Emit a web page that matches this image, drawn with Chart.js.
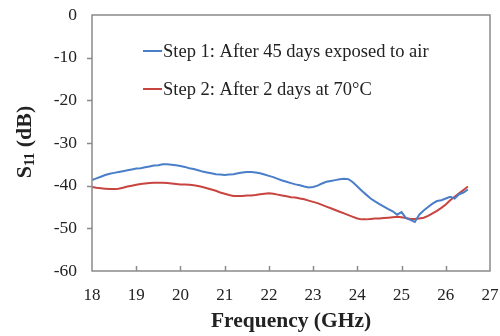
<!DOCTYPE html>
<html>
<head>
<meta charset="utf-8">
<script src="https://cdn.jsdelivr.net/npm/chart.js@4.4.1/dist/chart.umd.min.js"></script>
<style>
  html, body { margin: 0; padding: 0; background: #fff; }
  #wrap { width: 500px; height: 336px; }
</style>
</head>
<body>
<div id="wrap"><canvas id="s11Chart" width="500" height="336"></canvas></div>
<script>
// Frequency grid (GHz), shared by both series
const freq = [];
for (let i = 0; i <= 85; i++) freq.push(+(18 + i * 0.1).toFixed(1));

// Step 1: after 45 days exposed to air (dB)
const step1 = [
  -38.7, -38.3, -37.9, -37.5, -37.2, -37.0, -36.8, -36.6, -36.4, -36.2,
  -36.0, -35.9, -35.7, -35.5, -35.3, -35.2, -35.0, -35.0, -35.1, -35.2,
  -35.4, -35.6, -35.9, -36.1, -36.4, -36.7, -36.9, -37.1, -37.3, -37.4,
  -37.5, -37.4, -37.3, -37.1, -36.9, -36.8, -36.8, -36.9, -37.1, -37.4,
  -37.7, -38.0, -38.4, -38.8, -39.1, -39.4, -39.7, -39.9, -40.2, -40.4,
  -40.3, -40.0, -39.5, -39.1, -38.9, -38.7, -38.5, -38.4, -38.5, -39.2,
  -40.2, -41.2, -42.1, -43.0, -43.7, -44.3, -44.9, -45.5, -46.0, -46.8,
  -46.2, -47.6, -48.0, -48.5, -46.8, -45.8, -45.0, -44.2, -43.6, -43.4,
  -43.0, -42.6, -43.0, -42.0, -41.6, -40.9
];

// Step 2: after 2 days at 70°C (dB)
const step2 = [
  -40.3, -40.5, -40.6, -40.7, -40.8, -40.8, -40.7, -40.5, -40.2, -40.0,
  -39.8, -39.6, -39.5, -39.4, -39.3, -39.3, -39.3, -39.4, -39.5, -39.6,
  -39.7, -39.7, -39.8, -39.9, -40.1, -40.3, -40.6, -40.9, -41.2, -41.6,
  -41.9, -42.2, -42.4, -42.4, -42.4, -42.3, -42.3, -42.2, -42.0, -41.9,
  -41.8, -41.9, -42.1, -42.3, -42.5, -42.7, -42.8, -43.0, -43.2, -43.5,
  -43.8, -44.1, -44.5, -44.9, -45.3, -45.7, -46.1, -46.5, -46.9, -47.3,
  -47.7, -47.9, -47.9, -47.8, -47.7, -47.7, -47.6, -47.5, -47.4, -47.3,
  -47.4, -47.6, -47.8, -47.8, -47.7, -47.5, -47.1, -46.5, -45.9, -45.2,
  -44.4, -43.4, -42.6, -41.8, -41.0, -40.2
];

const seriesLabels = ['Step 1: After 45 days exposed to air', 'Step 2: After 2 days at 70°C'];
const seriesColors = ['#4a7ec8', '#c8443f'];

const serif = '"Liberation Serif", "Times New Roman", serif';

function toPoints (ys) {
  return ys.map((y, i) => ({ x: freq[i], y: y }));
}

// Draws the box, ticks, legend and axis titles
const decorations = {
  id: 'decorations',
  afterDraw (chart) {
    const ctx = chart.ctx;
    const a = chart.chartArea;
    const xs = chart.scales.x;
    const ys = chart.scales.y;
    ctx.save();

    // frame
    ctx.strokeStyle = '#8a8a8a';
    ctx.lineWidth = 1.5;
    ctx.strokeRect(a.left, a.top, a.right - a.left, a.bottom - a.top);

    // inward x ticks, outward y ticks
    ctx.beginPath();
    for (let v = 19; v <= 26; v++) {
      const px = Math.round(xs.getPixelForValue(v)) + 0.5;
      ctx.moveTo(px, a.bottom);
      ctx.lineTo(px, a.bottom - 5);
    }
    for (let v = -50; v <= -10; v += 10) {
      const py = Math.round(ys.getPixelForValue(v)) + 0.5;
      ctx.moveTo(a.left, py);
      ctx.lineTo(a.left - 5, py);
    }
    ctx.stroke();

    // legend
    ctx.font = '18.5px ' + serif;
    ctx.textBaseline = 'middle';
    ctx.textAlign = 'left';
    const legendY = [51, 89];
    for (let i = 0; i < 2; i++) {
      ctx.strokeStyle = seriesColors[i];
      ctx.lineWidth = 2;
      ctx.beginPath();
      ctx.moveTo(143, legendY[i]);
      ctx.lineTo(162, legendY[i]);
      ctx.stroke();
      ctx.fillStyle = '#222';
      ctx.fillText(seriesLabels[i], 163, legendY[i] + 1);
    }

    // x title
    ctx.fillStyle = '#222';
    ctx.font = 'bold 21.5px ' + serif;
    ctx.textAlign = 'center';
    ctx.fillText('Frequency (GHz)', 291, 321);

    // y title with subscript
    ctx.translate(25, 142);
    ctx.rotate(-Math.PI / 2);
    const big = 'bold 22px ' + serif;
    const small = 'bold 14px ' + serif;
    ctx.font = big;
    const wS = ctx.measureText('S').width;
    const wRest = ctx.measureText(' (dB)').width;
    ctx.font = small;
    const wSub = ctx.measureText('11').width;
    const x0 = -(wS + wSub + wRest) / 2;
    ctx.textAlign = 'left';
    ctx.font = big;
    ctx.fillText('S', x0, 0);
    ctx.font = small;
    ctx.fillText('11', x0 + wS, 5);
    ctx.font = big;
    ctx.fillText(' (dB)', x0 + wS + wSub, 0);

    ctx.restore();
  }
};

const ctx = document.getElementById('s11Chart').getContext('2d');
const s11Chart = new Chart(ctx, {
  type: 'line',
  data: {
    datasets: [{
      label: seriesLabels[0],
      data: toPoints(step1),
      borderColor: seriesColors[0],
      borderWidth: 2,
      pointRadius: 0,
      tension: 0
    }, {
      label: seriesLabels[1],
      data: toPoints(step2),
      borderColor: seriesColors[1],
      borderWidth: 2,
      pointRadius: 0,
      tension: 0
    }]
  },
  options: {
    responsive: false,
    animation: false,
    layout: { padding: { left: 0, right: 10, top: 15, bottom: 0 } },
    plugins: {
      legend: { display: false },
      tooltip: { enabled: false }
    },
    scales: {
      x: {
        type: 'linear',
        min: 18,
        max: 27,
        afterFit: (scale) => {
          scale.height = 65;
          scale.paddingLeft = 0;
          scale.paddingRight = 0;
        },
        grid: { display: false, drawTicks: false },
        border: { display: false },
        ticks: {
          stepSize: 1,
          padding: 14,
          maxRotation: 0,
          color: '#222',
          font: { family: serif, size: 17 }
        }
      },
      y: {
        min: -60,
        max: 0,
        afterFit: (scale) => {
          scale.width = 92;
          scale.paddingTop = 0;
          scale.paddingBottom = 0;
        },
        grid: { display: false, drawTicks: false },
        border: { display: false },
        ticks: {
          stepSize: 10,
          padding: 15,
          color: '#222',
          font: { family: serif, size: 17.5 }
        }
      }
    }
  },
  plugins: [decorations]
});
</script>
</body>
</html>
